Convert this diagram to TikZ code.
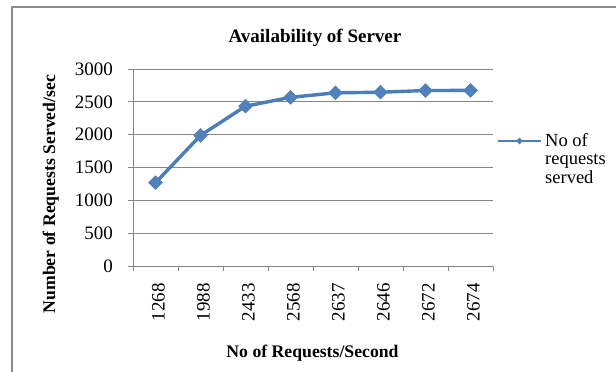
\documentclass[tikz,border=0pt]{standalone}
\usepackage{fontspec}
\setmainfont{Liberation Serif}
\usetikzlibrary{shapes.geometric}
\definecolor{serblue}{RGB}{74,126,187}
\definecolor{markblue}{RGB}{79,129,189}
\definecolor{gridgray}{RGB}{134,134,134}
\definecolor{framegray}{RGB}{140,140,140}
\begin{document}
\begin{tikzpicture}[x=1pt,y=-1pt,
  gridline/.style={draw=gridgray, line width=0.9pt},
  axisline/.style={draw=gridgray, line width=0.9pt},
  ticklab/.style={inner sep=0pt, font=\fontsize{19}{22}\selectfont},
  axtitle/.style={inner sep=0pt, font=\fontsize{17.7}{20}\selectfont\bfseries},
  charttitle/.style={inner sep=0pt, font=\fontsize{19}{22}\selectfont\bfseries},
  legtext/.style={inner sep=0pt, anchor=base west, font=\fontsize{18.5}{21}\selectfont},
  series/.style={draw=serblue, line width=3.4pt, line join=round},
  marker/.style={shape=diamond, fill=markblue, draw=serblue, line width=0.5pt, inner sep=0pt, minimum width=14pt, minimum height=14pt},
  legmarker/.style={shape=diamond, fill=markblue, inner sep=0pt, minimum width=7pt, minimum height=7pt}]
\useasboundingbox (0,0) rectangle (616,372);
\fill[white] (0,0) rectangle (616,372);
\begin{scope}
\clip (0,0) rectangle (616,372);
\draw[framegray, line width=2pt] (12,7) rectangle (640,400);
\end{scope}
% title
\node[charttitle, anchor=base] (title) at (315,42) {Availability of Server};
% gridlines and y labels
\foreach \v in {0,500,...,3000}{
  \pgfmathsetmacro{\yy}{266-\v*0.0656667}
  \node[ticklab, anchor=east] (yl\v) at (113,\yy) {\v};
  \draw[axisline] (128,\yy) -- (133,\yy);
}
\foreach \v in {500,1000,...,3000}{
  \pgfmathsetmacro{\yy}{266-\v*0.0656667}
  \draw[gridline] (133,\yy) -- (493,\yy);
}
% axes
\coordinate (origin) at (133,266);
\coordinate (ytop) at (133,69);
\coordinate (xend) at (493,266);
\draw[axisline] (ytop) -- (origin) -- (xend);
\foreach \i in {0,...,8}{
  \draw[axisline] ({133+45*\i},266) -- ({133+45*\i},271);
}
% x labels
\foreach \lab [count=\i from 0] in {1268,1988,2433,2568,2637,2646,2672,2674}{
  \node[ticklab, anchor=east, rotate=90] (xl\i) at ({158.5+45*\i},283) {\lab};
  \pgfmathsetmacro{\yy}{266-\lab*0.0656667}
  \coordinate (d\i) at ({155.5+45*\i},\yy);
}
% series
\draw[series] (d0) -- (d1) -- (d2) -- (d3) -- (d4) -- (d5) -- (d6) -- (d7);
\foreach \i in {0,...,7}{
  \node[marker] (m\i) at (d\i) {};
}
% axis titles
\node[axtitle, anchor=base, rotate=90] (ytitle) at (55,194) {Number of Requests Served/sec};
\node[axtitle, anchor=base] (xtitle) at (312.5,357) {No of Requests/Second};
% legend
\coordinate (lega) at (498,141);
\coordinate (legb) at (541,141);
\draw[draw=serblue, line width=2.5pt] (lega) -- (legb);
\node[legmarker] (legm) at (519.5,141) {};
\node[legtext] (leg1) at (545,146) {No of};
\node[legtext] (leg2) at (545,164.5) {requests};
\node[legtext] (leg3) at (545,183) {served};
\end{tikzpicture}
\end{document}
